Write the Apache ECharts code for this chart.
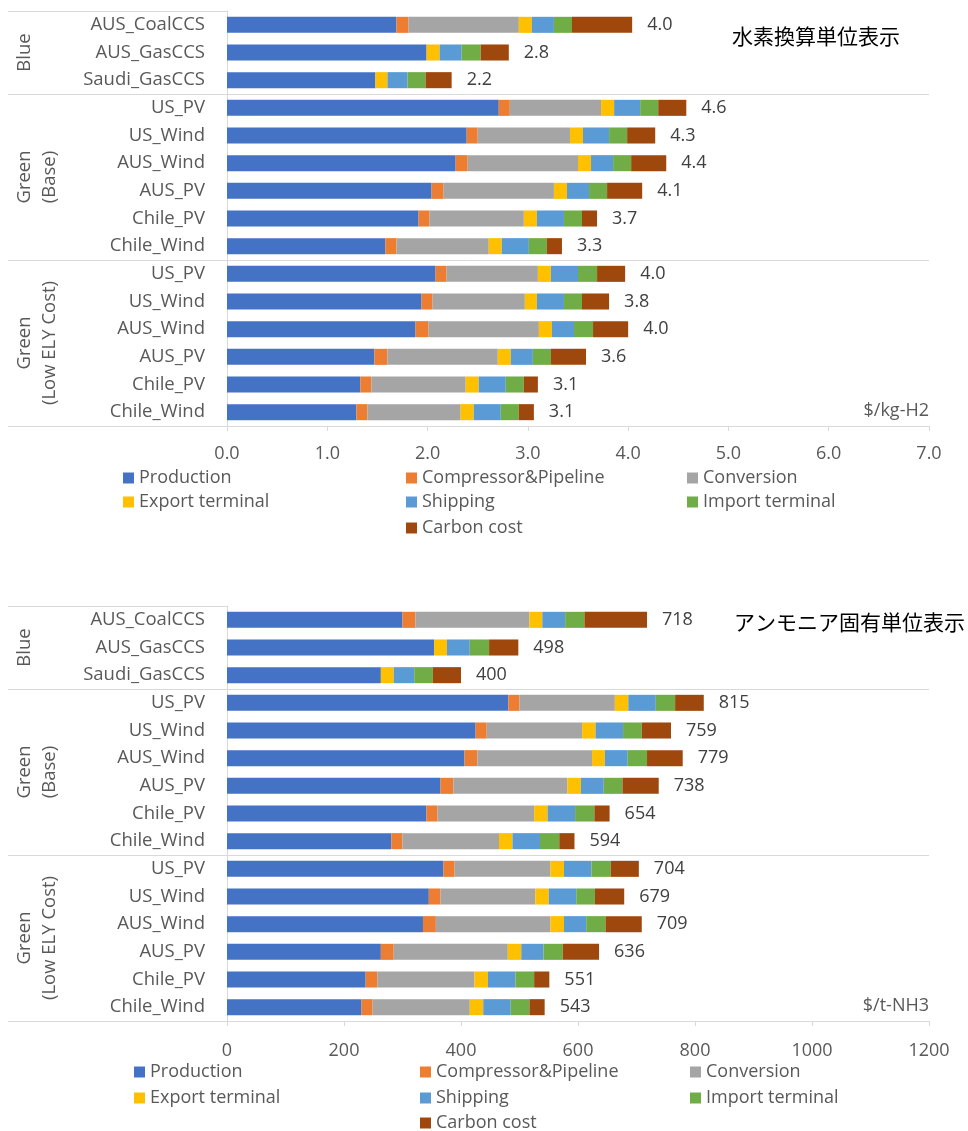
<!DOCTYPE html>
<html>
<head>
<meta charset="utf-8">
<script src="https://cdn.jsdelivr.net/npm/echarts@6/dist/echarts.min.js"></script>
<style>
  html, body { margin: 0; padding: 0; background: #ffffff; }
  #c { width: 968px; height: 1131px; }
</style>
</head>
<body>
<div id="c"></div>
<script>
// Supply routes, grouped by hydrogen type
const sites = ['AUS_CoalCCS', 'AUS_GasCCS', 'Saudi_GasCCS',
  'US_PV', 'US_Wind', 'AUS_Wind', 'AUS_PV', 'Chile_PV', 'Chile_Wind',
  'US_PV', 'US_Wind', 'AUS_Wind', 'AUS_PV', 'Chile_PV', 'Chile_Wind'];
const groupLines = [['Blue'], ['Green', '(Base)'], ['Green', '(Low ELY Cost)']];
const groupSizes = [3, 6, 6];

const components = ['Production', 'Compressor&Pipeline', 'Conversion',
  'Export terminal', 'Shipping', 'Import terminal', 'Carbon cost'];
const componentColors = ['#4472C4', '#ED7D31', '#A5A5A5', '#FFC000', '#5B9BD5', '#70AD47', '#9E480E'];

// Cost per kg of hydrogen ($/kg-H2)
const h2Production = [1.69, 1.99, 1.48, 2.71, 2.39, 2.28, 2.04, 1.91, 1.58, 2.08, 1.94, 1.88, 1.47, 1.33, 1.29];
const h2Compressor = [0.12, 0, 0, 0.11, 0.11, 0.12, 0.12, 0.11, 0.11, 0.11, 0.11, 0.13, 0.13, 0.11, 0.11];
const h2Conversion = [1.10, 0, 0, 0.91, 0.92, 1.10, 1.10, 0.94, 0.92, 0.91, 0.92, 1.10, 1.10, 0.94, 0.93];
const h2Export     = [0.13, 0.13, 0.12, 0.13, 0.13, 0.13, 0.13, 0.13, 0.13, 0.13, 0.12, 0.13, 0.13, 0.13, 0.13];
const h2Shipping   = [0.22, 0.22, 0.20, 0.26, 0.26, 0.22, 0.22, 0.27, 0.27, 0.27, 0.27, 0.22, 0.22, 0.27, 0.27];
const h2Import     = [0.18, 0.19, 0.18, 0.18, 0.18, 0.18, 0.18, 0.18, 0.18, 0.19, 0.18, 0.19, 0.18, 0.18, 0.18];
const h2Carbon     = [0.60, 0.28, 0.26, 0.28, 0.28, 0.35, 0.35, 0.15, 0.15, 0.28, 0.27, 0.35, 0.35, 0.14, 0.15];

// Cost per tonne of ammonia ($/t-NH3)
const nh3Production = [300, 354, 263, 481, 425, 406, 365, 341, 281, 370, 345, 335, 263, 237, 230];
const nh3Compressor = [22, 0, 0, 19, 19, 22, 22, 19, 19, 19, 20, 22, 22, 20, 19];
const nh3Conversion = [195, 0, 0, 163, 163, 196, 195, 165, 165, 164, 162, 196, 195, 166, 166];
const nh3Export     = [22, 22, 22, 23, 23, 22, 23, 23, 23, 23, 23, 23, 23, 23, 23];
const nh3Shipping   = [39, 39, 35, 47, 47, 39, 39, 47, 47, 47, 47, 38, 38, 47, 47];
const nh3Import     = [33, 33, 32, 33, 32, 33, 32, 33, 33, 33, 32, 33, 33, 32, 32];
const nh3Carbon     = [107, 50, 48, 49, 50, 61, 62, 26, 26, 48, 50, 62, 62, 26, 26];

const h2Ticks = { min: 0, max: 7, interval: 1, digits: 1 };
const nh3Ticks = { min: 0, max: 1200, interval: 200, digits: 0 };

const FONT = "'Open Sans', 'Noto Sans', sans-serif";
const CJK = "'Noto Sans CJK JP', sans-serif";
const TEXT = '#595959';
const RULE = '#d9d9d9';

const panels = [
  { stack: 'h2', values: [h2Production, h2Compressor, h2Conversion, h2Export, h2Shipping, h2Import, h2Carbon],
    ticks: h2Ticks, labelDigits: 1, top: 11, height: 415, tickMargin: 19,
    title: '水素換算単位表示', titleX: 732, titleY: 36, unit: '$/kg-H2',
    legendLeft: [123, 406, 687], legendRowY: [478, 502, 528] },
  { stack: 'nh3', values: [nh3Production, nh3Compressor, nh3Conversion, nh3Export, nh3Shipping, nh3Import, nh3Carbon],
    ticks: nh3Ticks, labelDigits: 0, top: 606, height: 415, tickMargin: 21,
    title: 'アンモニア固有単位表示', titleX: 734, titleY: 622, unit: '$/t-NH3',
    legendLeft: [134, 420, 690], legendRowY: [1072, 1098, 1123] }
];

const PLOT_LEFT = 227, PLOT_RIGHT = 929;
const axisKeys = sites.map((s, i) => i + '|' + s);

// legend layout: [column, row] of each component
const legendSlots = [[0, 0], [1, 0], [2, 0], [0, 1], [1, 1], [2, 1], [1, 2]];

const grids = [], xAxes = [], yAxes = [], series = [], legends = [];

panels.forEach((p, k) => {
  const totals = sites.map((_, i) => p.values.reduce((s, arr) => s + arr[i], 0));
  grids.push({ left: PLOT_LEFT, width: PLOT_RIGHT - PLOT_LEFT, top: p.top, height: p.height });
  xAxes.push({
    gridIndex: k, type: 'value', min: p.ticks.min, max: p.ticks.max, interval: p.ticks.interval,
    axisLine: { show: true, lineStyle: { color: RULE, width: 1 } },
    axisTick: { show: true, length: 5, lineStyle: { color: RULE } },
    splitLine: { show: false },
    axisLabel: { color: TEXT, fontSize: 18, fontFamily: FONT, margin: p.tickMargin,
      formatter: v => v.toFixed(p.ticks.digits) }
  });
  yAxes.push({
    gridIndex: k, type: 'category', inverse: true, data: axisKeys,
    axisLine: { show: true, lineStyle: { color: RULE } },
    axisTick: { show: false },
    axisLabel: { color: TEXT, fontSize: 18.5, fontFamily: FONT, margin: 22, interval: 0,
      formatter: v => v.split('|')[1] }
  });
  components.forEach((name, c) => {
    const last = c === components.length - 1;
    series.push({
      type: 'bar', name, stack: p.stack, xAxisIndex: k, yAxisIndex: k,
      barCategoryGap: '42%',
      itemStyle: { color: componentColors[c] },
      data: p.values[c],
      label: last ? {
        show: true, position: 'right', distance: 15, color: '#404040', fontSize: 18, fontFamily: FONT,
        formatter: q => (Math.round(totals[q.dataIndex] * Math.pow(10, p.labelDigits)) / Math.pow(10, p.labelDigits)).toFixed(p.labelDigits)
      } : { show: false },
      emphasis: { disabled: true },
      animation: false
    });
  });
  components.forEach((name, c) => {
    const [col, row] = legendSlots[c];
    legends.push({
      orient: 'horizontal', left: p.legendLeft[col], top: p.legendRowY[row] - 10, padding: 0,
      itemWidth: 11, itemHeight: 11, icon: 'rect', selectedMode: false,
      textStyle: { color: TEXT, fontSize: 18, fontFamily: FONT, lineHeight: 20 },
      data: [name]
    });
  });
});

const chart = echarts.init(document.getElementById('c'), null, { renderer: 'canvas' });
chart.setOption({
  animation: false,
  grid: grids, xAxis: xAxes, yAxis: yAxes, series, legend: legends
});

// Group labels, group dividers and captions placed from the category axis positions
const graphics = [];
panels.forEach((p, k) => {
  const yAt = i => chart.convertToPixel({ yAxisIndex: k }, i);
  const band = yAt(1) - yAt(0);
  const top = yAt(0) - band / 2;
  const bottom = yAt(sites.length - 1) + band / 2;
  const line = (x1, y, x2) => ({ type: 'line', silent: true,
    shape: { x1, y1: Math.round(y) + 0.5, x2, y2: Math.round(y) + 0.5 },
    style: { stroke: RULE, lineWidth: 1 } });
  graphics.push(line(8, top, PLOT_LEFT));
  graphics.push(line(8, bottom, PLOT_LEFT));
  let start = 0;
  groupSizes.forEach((n, g) => {
    const mid = (yAt(start) + yAt(start + n - 1)) / 2;
    groupLines[g].forEach((txt, li) => {
      graphics.push({ type: 'text', silent: true, x: 25 + li * 25, y: mid, rotation: Math.PI / 2,
        style: { text: txt, fill: TEXT, font: '18.5px ' + FONT, align: 'center', verticalAlign: 'middle' } });
    });
    start += n;
    if (g < groupSizes.length - 1) {
      graphics.push(line(8, yAt(start) - band / 2, PLOT_RIGHT));
    }
  });
  graphics.push({ type: 'text', silent: true, x: p.titleX, y: p.titleY,
    style: { text: p.title, fill: '#000000', font: '21px ' + CJK, align: 'left', verticalAlign: 'middle' } });
  graphics.push({ type: 'text', silent: true, x: PLOT_RIGHT, y: bottom - 15,
    style: { text: p.unit, fill: TEXT, font: '18px ' + FONT, align: 'right', verticalAlign: 'middle' } });
});
chart.setOption({ graphic: graphics });
</script>
</body>
</html>
